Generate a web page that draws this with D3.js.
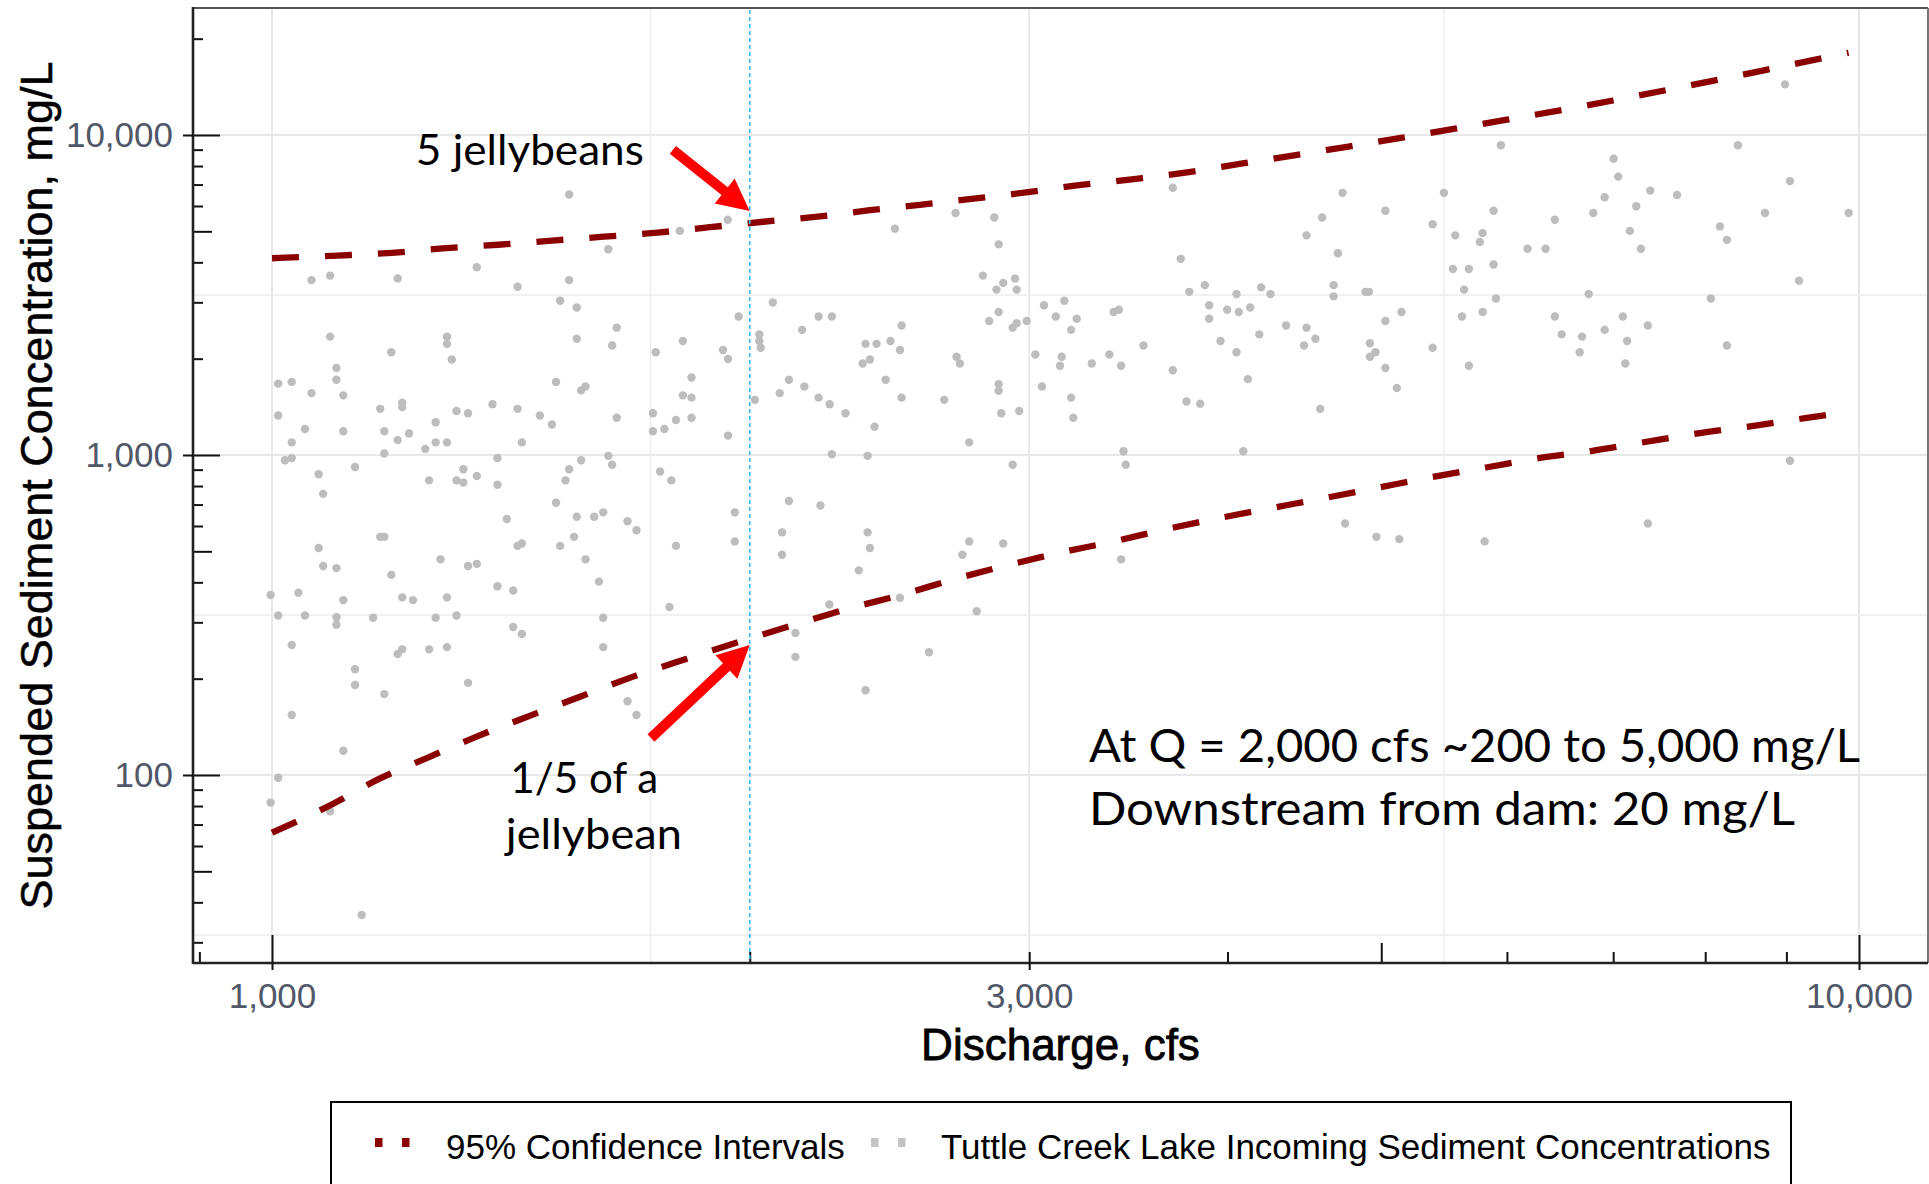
<!DOCTYPE html>
<html><head><meta charset="utf-8">
<script src="https://cdn.jsdelivr.net/npm/d3@7"></script>
<style>
html,body{margin:0;padding:0;background:#fff;}
svg{display:block;}
</style></head>
<body>
<svg id="chart" width="1929" height="1184"></svg>
<script>
// ---------------- DATA ----------------
const discharge = [
1539,1629,1346,1059,1088,1200,1428,1539,1519,1556,1088,1556,1649,1638,1189,1289,1289,1298,1098,1098,
1009,1029,1059,1109,1510,1566,1576,1170,1208,1208,1377,1428,1475,1501,1009,1649,1307,1329,1268,1049,
1109,1177,1220,1029,1200,1268,1289,1437,1249,1019,1029,1177,1387,1566,1629,1638,1128,1070,1320,1539,
1256,1307,1320,1346,1387,1531,1077,1510,1556,1596,1617,1406,1675,1697,1170,1177,1550,1070,1428,1437,
1519,1077,1098,1277,1329,1346,1576,1189,1607,1387,1419,998,1039,1109,1208,1227,1289,1009,1049,1098,
1098,1158,1268,1307,1617,1419,1437,1029,1200,1208,1256,1289,1617,1128,1128,1329,1177,1675,1697,1029,
1109,1009,998,1088,1139,
1807,1937,2469,2696,2852,2870,2805,2861,2889,2939,2946,2068,1968,2210,2253,2158,2493,3065,3118,3157,
3214,3188,2831,2870,2929,2946,2989,1745,1815,1924,1938,2028,2028,2032,2366,2404,2453,2487,2356,2381,
2700,2713,3027,3145,3137,1838,1815,1838,2117,2165,2089,2436,2870,2870,3056,2015,2210,2246,2298,2493,
2652,3188,2881,2957,3198,1738,1738,1767,1797,1838,1938,2397,2750,2253,2373,2929,1756,1785,2117,2216,
1957,1957,1797,2096,2096,2373,2381,2750,2723,2889,2343,1780,2245,2487,2780,2137,2137,2594,2366,
3695,4727,5030,5476,5948,5885,4589,4486,4695,5387,5567,5792,5769,3738,5548,5678,5885,3871,3784,4053,
4200,4258,4666,4666,4887,4911,5639,5905,3391,3417,3895,3895,3998,4066,4134,4355,4486,5030,5149,5621,
5792,3541,3370,3285,3428,3960,4053,4189,4470,4544,4918,4918,4958,5387,5030,5678,3695,4120,5114,3769,
3845,4576,3440,3451,4093,4744,4965,5132,5809,3428,
8982,8389,7005,7051,9047,7387,7680,6914,6432,6801,7238,8725,9851,8173,8256,7172,6182,6346,7287,9167,
6756,8066,6432,6496,6691,6668,6914,7099,7143,7124,7361,8256,9047,7361
];
const concentration = [
6516,4393,3863,3520,3636,3563,3354,3520,3033,2890,2344,2307,2500,2198,2094,2344,2225,1988,1871,1719,
1671,1692,1561,1536,1692,1592,1638,1394,1458,1411,1440,1394,1329,1246,1329,1308,1372,1350,1266,1206,
1187,1187,1168,1095,1113,1095,1095,1095,1044,963,979,1011,979,963,994,932,917,871,903,903,
833,833,820,860,807,833,756,709,641,641,662,631,621,582,555,555,555,512,520,529,
520,450,443,472,450,457,472,422,402,389,377,365,371,352,359,352,359,315,315,311,
295,310,310,315,310,290,276,255,239,247,247,251,251,214,191,194,179,170,154,154,
119,98,82,77,36.5,
5016,5436,5097,5705,5524,4553,3636,3287,3450,3563,3287,2996,2709,2709,2709,2460,2540,2937,2709,3033,
2666,2460,2624,2798,2500,2582,2624,2094,2270,2128,1995,2382,2270,2163,2225,2225,2270,2128,1932,1988,
2028,1932,2061,2028,1901,1747,1536,1511,1719,1638,1561,1719,1665,1587,1638,1487,1511,1440,1350,1511,
1487,1511,1350,1372,1308,1350,1187,1206,1287,1308,1150,1226,1095,1006,994,932,888,833,718,695,
662,537,520,573,488,573,512,537,488,529,436,335,341,358,325,278,234,242,184,
6839,6596,5797,6596,9288,5797,5524,4857,4271,5264,4857,4935,4628,4102,3815,3815,3940,3395,3235,3183,
3341,3183,3395,3132,3235,3235,3287,3082,2798,2843,2937,2666,2843,2798,2890,2540,2500,2624,2798,2709,
2798,2198,2061,1932,1901,2270,2094,2382,2198,2307,2234,2028,2094,2163,1871,1901,1841,1726,1619,1470,
1446,1394,1027,932,1027,611,555,546,537,472,
14397,9288,8432,7413,7178,6703,6491,6387,5436,5705,5987,5705,5705,5180,4703,5016,4410,4410,4410,3506,
3183,3082,2709,2382,2344,2094,2460,2709,2270,1932,2540,2198,959,611
];
// 95% confidence interval curves
const upperDischarge = [1000,1100,1190,1281,1388,1501,1618,1749,1888,2040,2207,2381,2568,2777,2995,3196,3503,3783,4079,4406,4757,5145,5565,6000,6480,6998,7580,8175,8840,9546,9850];
const upperConc      = [4120,4200,4285,4420,4540,4677,4810,4954,5150,5357,5557,5821,6062,6338,6626,6934,7295,7657,8135,8639,9186,9795,10462,11164,11947,12820,13843,14925,16167,17500,18078];
const lowerDischarge = [1000,1089,1168,1256,1348,1452,1565,1689,1826,1971,2130,2307,2494,2690,2905,3143,3393,3664,3957,4272,4621,4998,5390,5821,6295,6779,7331,7942,8562,9248,9850];
const lowerConc      = [66,80.6,97.2,113.8,132.3,152.8,176,203,231,261,294,331,366,409,452,496,537,587,636,684,736,794,854,914,979,1029,1098,1171,1231,1304,1365];

const xTickValues = [1000, 3000, 10000];
const yTickValues = [100, 1000, 10000];
const xMinorGrid = [1732, 5477];
const yMinorGrid = [31.62, 316.2, 3162];
const xLogTicks = [900,1000,2000,3000,4000,5000,6000,7000,8000,9000,10000];
const yLogTicks = [30,40,50,60,70,80,90,100,200,300,400,500,600,700,800,900,1000,2000,3000,4000,5000,6000,7000,8000,9000,10000,20000];
const referenceDischarge = 2000;

const xTitle = "Discharge, cfs";
const yTitle = "Suspended Sediment Concentration, mg/L";
const legendLabels = ["95% Confidence Intervals", "Tuttle Creek Lake Incoming Sediment Concentrations"];

// annotation texts, anchored in data coordinates (discharge at start, concentration at baseline)
const noteTexts = ["5 jellybeans", "1/5 of a", "jellybean", "At Q = 2,000 cfs ~200 to 5,000 mg/L", "Downstream from dam: 20 mg/L"];
const noteQ = [1232, 1413, 1404, 3272, 3272];
const noteC = [8054, 87.9, 58.7, 109.8, 69.8];
// arrows: tail and tip in data coordinates
const arrowTailQ = [1789, 1733];
const arrowTailC = [8980, 130.5];
const arrowTipQ = [2000, 2000];
const arrowTipC = [5788, 254.7];

// ---------------- LAYOUT ----------------
const W = 1929, H = 1184;
const P = {l: 193, r: 1928, t: 8, b: 963};
const svg = d3.select("#chart");
const x = d3.scaleLog().domain([1000, 10000]).range([272, 1859]);
const y = d3.scaleLog().domain([100, 10000]).range([775, 135]);
const FONT = "'Liberation Sans', Arial, sans-serif";
const NOTEFONT = "Lato, 'Open Sans', sans-serif";

svg.append("rect").attr("width", W).attr("height", H).attr("fill", "#fff");
svg.append("defs").append("clipPath").attr("id", "clip")
  .append("rect").attr("x", P.l).attr("y", P.t).attr("width", P.r - P.l).attr("height", P.b - P.t);

// grid
const grid = svg.append("g");
grid.selectAll(".gym").data(yMinorGrid).join("line")
  .attr("x1", P.l).attr("x2", P.r).attr("y1", d => y(d)).attr("y2", d => y(d))
  .attr("stroke", "#ececec").attr("stroke-width", 1.3);
grid.selectAll(".gyM").data(yTickValues).join("line")
  .attr("x1", P.l).attr("x2", P.r).attr("y1", d => y(d)).attr("y2", d => y(d))
  .attr("stroke", "#e8e8e8").attr("stroke-width", 2);
grid.selectAll(".gxm").data(xMinorGrid).join("line")
  .attr("y1", P.t).attr("y2", P.b).attr("x1", d => x(d)).attr("x2", d => x(d))
  .attr("stroke", "#ececec").attr("stroke-width", 1.3);
grid.selectAll(".gxM").data(xTickValues).join("line")
  .attr("y1", P.t).attr("y2", P.b).attr("x1", d => x(d)).attr("x2", d => x(d))
  .attr("stroke", "#e8e8e8").attr("stroke-width", 2);

// points
const pts = d3.zip(discharge, concentration);
svg.append("g").attr("clip-path", "url(#clip)")
  .selectAll("circle").data(pts).join("circle")
  .attr("cx", d => x(d[0])).attr("cy", d => y(d[1])).attr("r", 4.2)
  .attr("fill", "#bdbdbd");

// CI lines
const line = d3.line().x(d => x(d[0])).y(d => y(d[1])).curve(d3.curveMonotoneX);
const ciG = svg.append("g").attr("clip-path", "url(#clip)");
[d3.zip(upperDischarge, upperConc), d3.zip(lowerDischarge, lowerConc)].forEach(data => {
  ciG.append("path").datum(data).attr("d", line)
    .attr("fill", "none").attr("stroke", "#8b0000").attr("stroke-width", 6.3)
    .attr("stroke-dasharray", "27,26");
});

// log ticks inside the panel
function tickClass(d) {
  const m = Math.round(d / Math.pow(10, Math.floor(Math.log10(d) + 1e-9)));
  return m === 1 ? 27 : (m === 5 ? 19 : 10);
}
[27, 19, 10].forEach(len => {
  const yv = yLogTicks.filter(d => tickClass(d) === len);
  const gy = svg.append("g").attr("transform", `translate(${P.l},0)`)
    .call(d3.axisRight(y).tickValues(yv).tickSize(len).tickFormat(""));
  gy.select(".domain").remove();
  gy.selectAll("line").attr("stroke", "#111").attr("stroke-width", 2);
  const xv = xLogTicks.filter(d => tickClass(d) === len);
  const gx = svg.append("g").attr("transform", `translate(0,${P.b})`)
    .call(d3.axisTop(x).tickValues(xv).tickSize(len + 1).tickFormat(""));
  gx.select(".domain").remove();
  gx.selectAll("line").attr("stroke", "#111").attr("stroke-width", 2);
});

// reference vertical line at Q = 2000
svg.append("line")
  .attr("x1", x(referenceDischarge)).attr("x2", x(referenceDischarge))
  .attr("y1", P.t + 2).attr("y2", P.b)
  .attr("stroke", "#33b8f2").attr("stroke-width", 1.6).attr("stroke-dasharray", "4,3");

// panel border (top/right) and axis lines
svg.append("line").attr("x1", P.l).attr("x2", P.r).attr("y1", P.t).attr("y2", P.t)
  .attr("stroke", "#555").attr("stroke-width", 2);
svg.append("line").attr("x1", P.r).attr("x2", P.r).attr("y1", P.t).attr("y2", P.b)
  .attr("stroke", "#777").attr("stroke-width", 2);
svg.append("line").attr("x1", P.l).attr("x2", P.l).attr("y1", P.t - 1).attr("y2", P.b + 1)
  .attr("stroke", "#222").attr("stroke-width", 2.6);
svg.append("line").attr("x1", P.l).attr("x2", P.r).attr("y1", P.b).attr("y2", P.b)
  .attr("stroke", "#222").attr("stroke-width", 2.6);

// labelled axes
const yAx = svg.append("g").attr("transform", `translate(${P.l},0)`)
  .call(d3.axisLeft(y).tickValues(yTickValues).tickSize(10).tickPadding(10).tickFormat(d3.format(",")));
yAx.select(".domain").remove();
yAx.selectAll("line").attr("stroke", "#111").attr("stroke-width", 2);
yAx.selectAll("text").attr("font-family", FONT).attr("font-size", 35).attr("fill", "#505868").attr("dy", "0.33em");

const xAx = svg.append("g").attr("transform", `translate(0,${P.b})`)
  .call(d3.axisBottom(x).tickValues(xTickValues).tickSize(7).tickFormat(d3.format(",")));
xAx.select(".domain").remove();
xAx.selectAll("line").attr("stroke", "#111").attr("stroke-width", 2);
xAx.selectAll("text").attr("font-family", FONT).attr("font-size", 35).attr("fill", "#505868")
  .attr("y", 45).attr("dy", null);

// axis titles
svg.append("text").attr("x", (P.l + P.r) / 2).attr("y", 1060).attr("text-anchor", "middle")
  .attr("font-family", FONT).attr("font-size", 44).attr("fill", "#000")
  .attr("stroke", "#000").attr("stroke-width", 0.8).text(xTitle);
svg.append("text").attr("transform", `translate(52,${(P.t + P.b) / 2}) rotate(-90)`)
  .attr("text-anchor", "middle").attr("font-family", FONT).attr("font-size", 45).attr("fill", "#000")
  .attr("stroke", "#000").attr("stroke-width", 0.5).text(yTitle);

// annotations
const noteWidths = [228, 148, 176, 771, 706];
const noteSizes = [43, 43, 43, 46, 46];
noteTexts.forEach((t, i) => {
  svg.append("text").attr("x", x(noteQ[i])).attr("y", y(noteC[i]))
    .attr("font-family", NOTEFONT).attr("font-size", noteSizes[i]).attr("fill", "#000")
    .attr("textLength", noteWidths[i]).attr("lengthAdjust", "spacingAndGlyphs").text(t);
});

// arrows
function arrowPoly(x0, y0, x1, y1, sw, hl, hw) {
  const dx = x1 - x0, dy = y1 - y0, L = Math.hypot(dx, dy);
  const ux = dx / L, uy = dy / L, nx = -uy, ny = ux;
  const bx = x1 - ux * hl, by = y1 - uy * hl;
  return [
    [x0 + nx * sw / 2, y0 + ny * sw / 2], [bx + nx * sw / 2, by + ny * sw / 2],
    [bx + nx * hw / 2, by + ny * hw / 2], [x1, y1],
    [bx - nx * hw / 2, by - ny * hw / 2], [bx - nx * sw / 2, by - ny * sw / 2],
    [x0 - nx * sw / 2, y0 - ny * sw / 2]
  ].map(p => p.join(",")).join(" ");
}
arrowTailQ.forEach((q, i) => {
  svg.append("polygon")
    .attr("points", arrowPoly(x(q), y(arrowTailC[i]), x(arrowTipQ[i]), y(arrowTipC[i]), 10, 32, 32))
    .attr("fill", "#ff0000");
});

// legend
const lg = svg.append("g");
lg.append("rect").attr("x", 331).attr("y", 1102).attr("width", 1460).attr("height", 130)
  .attr("fill", "#fff").attr("stroke", "#000").attr("stroke-width", 2);
const keyColors = ["#8b0000", "#c4c4c4"];
const keyX = [375, 871];
const textX = [446, 941];
legendLabels.forEach((lab, i) => {
  [0, 27].forEach(off => {
    lg.append("rect").attr("x", keyX[i] + off).attr("y", 1138).attr("width", 7.5).attr("height", 9)
      .attr("fill", keyColors[i]);
  });
  lg.append("text").attr("x", textX[i]).attr("y", 1159).attr("font-family", FONT)
    .attr("font-size", 35).attr("fill", "#000").text(lab);
});
</script>
</body></html>
